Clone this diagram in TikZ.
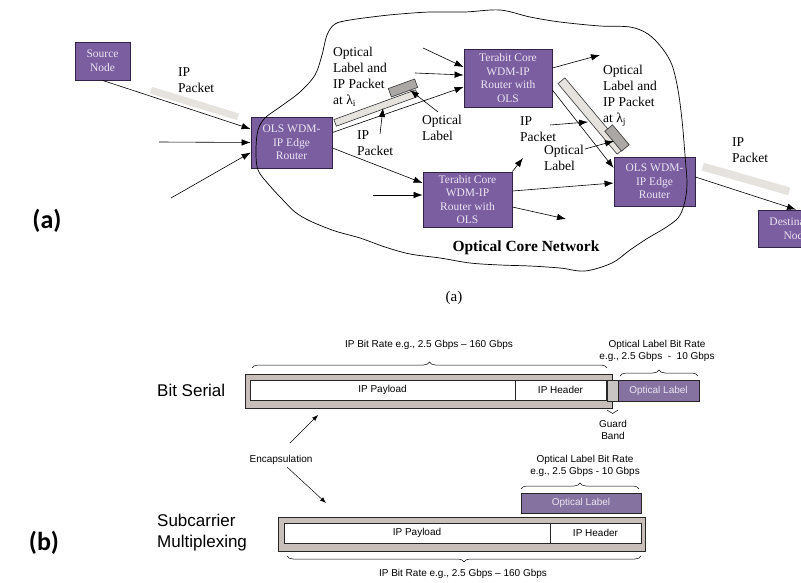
\documentclass[tikz,border=0pt]{standalone}
\usepackage{fontspec}
\setmainfont{Liberation Serif}
\setsansfont{Liberation Sans}
\newfontfamily\panelfont{Carlito}
\usetikzlibrary{arrows.meta,decorations.pathreplacing}
\definecolor{olsviolet}{RGB}{123,94,160}
\definecolor{olsedge}{RGB}{50,36,70}
\definecolor{boxtext}{RGB}{234,228,242}
\definecolor{pktgrey}{RGB}{230,226,222}
\definecolor{lblgrey}{RGB}{170,167,164}
\definecolor{framegrey}{RGB}{201,191,186}
\definecolor{guardgrey}{RGB}{200,197,194}
\definecolor{lblviolet}{RGB}{134,114,160}
\begin{document}
\begin{tikzpicture}[x=1pt, y=-1pt,
    router/.style={draw=olsedge, fill=olsviolet, text=boxtext, line width=0.8pt, align=center, inner sep=0pt, font=\fontsize{11.5}{13.5}\selectfont},
    ptr/.style={-{Latex[length=9pt,width=6.5pt]}, line width=0.6pt},
    sptr/.style={-{Latex[length=6pt,width=4.5pt]}, line width=0.5pt},
    tag/.style={align=left, anchor=west, inner sep=0pt, font=\fontsize{13.5}{16}\selectfont},
    pkt/.style={fill=pktgrey, inner sep=0pt},
    pktline/.style={pkt, draw=black!80, line width=0.6pt},
    lbl/.style={fill=lblgrey, draw=black!80, line width=0.6pt, inner sep=0pt},
    frame/.style={draw=black!85, fill=framegrey, line width=0.8pt, inner sep=0pt},
    field/.style={draw=black!85, fill=white, line width=0.8pt, inner sep=0pt, font=\sffamily\fontsize{10}{12}\selectfont},
    olabel/.style={draw=black!85, fill=lblviolet, text=boxtext, line width=0.8pt, inner sep=0pt, font=\sffamily\fontsize{10}{12}\selectfont},
    rate/.style={align=center, inner sep=0pt, font=\sffamily\fontsize{10}{12}\selectfont},
    brc/.style={decorate, decoration={brace, amplitude=#1}, line width=0.5pt},
    brc/.default=6pt]
    \useasboundingbox (0, 0) rectangle (801, 583);
    \clip (0, 0) rectangle (801, 583);

    %% (a) the routers
    \node[router, minimum width=55pt, minimum height=38pt] (src) at (102.5, 61){Source\\Node};
    \node[router, minimum width=81pt, minimum height=51pt] (edge1) at (291.5, 142.5){OLS WDM-\\IP Edge\\Router};
    \node[router, minimum width=88pt, minimum height=58pt] (core1) at (508, 78){Terabit Core\\WDM-IP\\Router with\\OLS};
    \node[router, minimum width=89pt, minimum height=55pt] (core2) at (467.5, 199.5){Terabit Core\\WDM-IP\\Router with\\OLS};
    \node[router, minimum width=81pt, minimum height=49pt] (edge2) at (654.5, 181.5){OLS WDM-\\IP Edge\\Router};
    \node[router, minimum width=76pt, minimum height=37pt] (dest) at (796, 228.5){Destination\\Node};

    %% (a) the packets
    \node[pkt, minimum width=91pt, minimum height=7pt, rotate=-17] (pkt0) at (194.5, 103.5){};
    \node[pktline, minimum width=87pt, minimum height=7pt, rotate=20] (bar1) at (376, 108){};
    \node[lbl, minimum width=28pt, minimum height=9pt, rotate=20] (lab1) at (403, 88){};
    \node[pktline, minimum width=92pt, minimum height=9pt, rotate=-50] (bar2) at (591, 116){};
    \node[lbl, minimum width=26pt, minimum height=10pt, rotate=-50] (lab2) at (617, 138){};
    \node[pkt, minimum width=90pt, minimum height=8pt, rotate=-16] (pkt3) at (746, 179){};

    %% (a) loose ends
    \coordinate (in1) at (159, 142);
    \coordinate (in2) at (171, 198);
    \coordinate (in3) at (423, 48);
    \coordinate (in4) at (415, 73);
    \coordinate (in5) at (373, 195);
    \coordinate (out1) at (600, 55);
    \coordinate (out2) at (523, 158);
    \coordinate (out3) at (566, 219);

    %% (a) the links
    \draw[ptr] (src.south) -- ([yshift=13.5pt]edge1.west);
    \draw[ptr] (in1) -- (edge1.west);
    \draw[ptr] (in2) -- ([yshift=-10pt]edge1.west);
    \draw[ptr] ([yshift=10pt]edge1.east) -- ([yshift=-9pt]core1.west);
    \draw[ptr] (in3) -- ([yshift=11pt]core1.west);
    \draw[ptr] (in4) -- ([yshift=3pt]core1.west);
    \draw[ptr] ([yshift=10pt]core1.east) -- (out1);
    \draw[ptr] ([yshift=-12pt]core1.east) -- ([yshift=13.5pt]edge2.west);
    \draw[ptr] ([yshift=-5.5pt]edge1.east) -- ([yshift=16.5pt]core2.west);
    \draw[ptr] (in5) -- ([yshift=4.5pt]core2.west);
    \draw[ptr] (core2.north east) -- (out2);
    \draw[ptr] ([yshift=8.5pt]core2.east) -- ([yshift=-1.5pt]edge2.west);
    \draw[ptr] ([yshift=-7.5pt]core2.east) -- (out3);
    \draw[ptr] ([yshift=4.5pt]edge2.east) -- (dest.north);

    %% (a) the tags
    \node[tag] (ipk0) at (178, 80){IP\\Packet};
    \node[tag] (olab1) at (333, 77){Optical\\Label and\\IP Packet\\at λ\textsubscript{i}};
    \node[tag] (ipk1) at (357, 143.5){IP\\Packet};
    \node[tag] (ol1) at (422, 127.5){Optical\\Label};
    \node[tag] (olab2) at (603, 96){Optical\\Label and\\IP Packet\\at λ\textsubscript{j}};
    \node[tag] (ipk2) at (520, 129.5){IP\\Packet};
    \node[tag] (ol2) at (544, 158){Optical\\Label};
    \node[tag] (ipk3) at (732, 150.5){IP\\Packet};
    \coordinate (p1) at (380, 134);
    \coordinate (p2) at (438, 112);
    \coordinate (p3) at (550, 125);
    \coordinate (p4) at (585, 149);
    \draw[ptr] (p1) -- (383, 108);
    \draw[ptr] (p2) -- (410, 90);
    \draw[ptr] (p3) -- (588, 122);
    \draw[ptr] (p4) -- (614, 141);

    %% (a) the cloud
    \draw[line width=0.7pt] plot[smooth cycle, tension=0.55] coordinates {
        (258, 170) (256, 150) (258, 130) (265, 118) (280, 107) (300, 92) (315, 75)
        (322, 55) (327, 35) (335, 24) (350, 20) (380, 16) (400, 14) (430, 12)
        (465, 12) (500, 10) (530, 17) (560, 22) (600, 26) (630, 27) (648, 34)
        (662, 48) (672, 65) (678, 90) (682, 120) (685, 155) (687, 185) (684, 205)
        (678, 218) (665, 228) (648, 238) (630, 250) (612, 263) (585, 271) (560, 268)
        (530, 266) (500, 265) (470, 263) (440, 258) (410, 254) (385, 247) (360, 238)
        (335, 231) (310, 221) (295, 212) (283, 200) (270, 186)};
    \node[font=\bfseries\fontsize{15.5}{18}\selectfont] (ocn) at (526, 248){Optical Core Network};
    \node[font=\fontsize{15}{18}\selectfont] (capa) at (454, 298){(a)};
    \node[font=\panelfont\bfseries\fontsize{26}{30}\selectfont] (parta) at (47, 221){(a)};

    %% (b) bit serial
    \node[anchor=west, inner sep=0pt, font=\sffamily\fontsize{17}{20}\selectfont] (bslbl) at (157, 390){Bit Serial};
    \node[frame, minimum width=367pt, minimum height=34pt] (bsframe) at (428.5, 391){};
    \node[field, minimum width=265pt, minimum height=20pt] (bspay) at (382.5, 390){IP Payload};
    \node[field, minimum width=91pt, minimum height=20pt] (bshead) at (560.5, 390){IP Header};
    \node[frame, fill=guardgrey, minimum width=11pt, minimum height=21pt] (guard) at (612.5, 390.5){};
    \node[olabel, minimum width=81pt, minimum height=21pt] (bslab) at (658.5, 390.5){Optical Label};
    \draw[brc] (252, 368) -- (607, 368);
    \node[rate] (bsrate) at (429, 345){IP Bit Rate e.g., 2.5 Gbps -- 160 Gbps};
    \draw[brc] (620, 376) -- (698, 376);
    \node[rate] (bslrate) at (657, 351){Optical Label Bit Rate\\e.g., 2.5 Gbps \ - \ 10 Gbps};
    \draw[brc=3.5pt] (618, 410) -- (607, 410);
    \node[rate] (gband) at (613, 429.5){Guard\\Band};

    %% (b) encapsulation
    \node[inner sep=0pt, font=\sffamily\fontsize{10}{12}\selectfont] (encap) at (281, 460){Encapsulation};
    \coordinate (enc1) at (290, 443);
    \coordinate (enc2) at (287, 467);
    \draw[sptr] (enc1) -- (318, 415);
    \draw[sptr] (enc2) -- (326, 503);

    %% (b) subcarrier multiplexing
    \node[anchor=west, align=left, inner sep=0pt, font=\sffamily\fontsize{17}{21}\selectfont] (sclbl) at (157, 532.5){Subcarrier\\Multiplexing};
    \node[frame, minimum width=367pt, minimum height=34pt] (scframe) at (461.5, 534){};
    \node[field, minimum width=266pt, minimum height=20pt] (scpay) at (417, 533){IP Payload};
    \node[field, minimum width=91pt, minimum height=20pt] (schead) at (595.5, 533){IP Header};
    \node[olabel, minimum width=120pt, minimum height=20pt] (sclab) at (581, 503){Optical Label};
    \draw[brc] (521, 489) -- (639, 489);
    \node[rate] (sclrate) at (585, 466){Optical Label Bit Rate\\e.g., 2.5 Gbps - 10 Gbps};
    \draw[brc] (641, 556) -- (287, 556);
    \node[rate] (scrate) at (463, 574){IP Bit Rate e.g., 2.5 Gbps -- 160 Gbps};
    \node[font=\panelfont\bfseries\fontsize{26}{30}\selectfont] (partb) at (44, 543){(b)};
\end{tikzpicture}
\end{document}
